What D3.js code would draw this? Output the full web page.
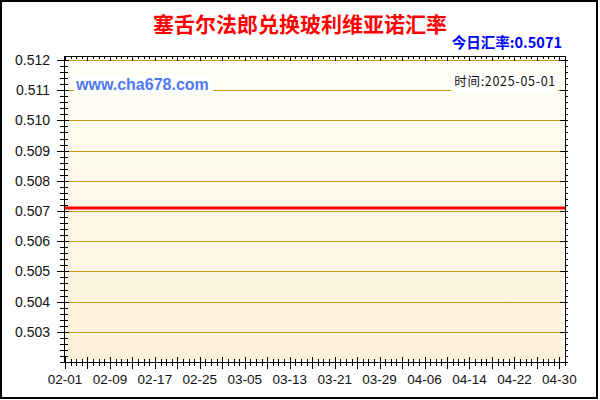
<!DOCTYPE html>
<html><head><meta charset="utf-8">
<script src="https://cdn.jsdelivr.net/npm/d3@7"></script>
<style>html,body{margin:0;padding:0;background:#fff;}svg{display:block;}</style>
</head><body>
<svg id="c" width="600" height="400"></svg>
<script>
const titleText = "塞舌尔法郎兑换玻利维亚诺汇率";
const todayText = "今日汇率:0.5071";
const siteText = "www.cha678.com";
const timeText = "时间:2025-05-01";
const dates = ["2025-02-01","2025-02-09","2025-02-17","2025-02-25","2025-03-05","2025-03-13","2025-03-21","2025-03-29","2025-04-06","2025-04-14","2025-04-22","2025-04-30","2025-05-01"];
const rates = [0.5071,0.5071,0.5071,0.5071,0.5071,0.5071,0.5071,0.5071,0.5071,0.5071,0.5071,0.5071,0.5071];
const xTickDates = ["2025-02-01","2025-02-09","2025-02-17","2025-02-25","2025-03-05","2025-03-13","2025-03-21","2025-03-29","2025-04-06","2025-04-14","2025-04-22","2025-04-30"];
const yTicks = [0.503,0.504,0.505,0.506,0.507,0.508,0.509,0.510,0.511,0.512];
const yDomain = [0.502, 0.512];
const xDomain = ["2025-02-01","2025-05-01"];

const parse = d3.utcParse("%Y-%m-%d");
const fmt = d3.utcFormat("%m-%d");
const svg = d3.select("#c");

const L = 64, R = 565, T = 56, B = 362;
const x = d3.scaleUtc().domain(xDomain.map(parse)).range([65, 565]);
const y = d3.scaleLinear().domain(yDomain).range([362, 60]);

// outer border
svg.append("rect").attr("x",1).attr("y",1).attr("width",596).attr("height",397)
  .attr("fill","#fff").attr("stroke","#000").attr("stroke-width",2);

// background gradient
const defs = svg.append("defs");
const g = defs.append("linearGradient").attr("id","bg").attr("x1",0).attr("y1",0).attr("x2",0).attr("y2",1);
g.append("stop").attr("offset","0%").attr("stop-color","#fffef6");
g.append("stop").attr("offset","100%").attr("stop-color","#fdf1d9");
svg.append("rect").attr("x",66).attr("y",58).attr("width",497).attr("height",302).attr("fill","url(#bg)");

// grid lines
svg.append("g").selectAll("line").data(yTicks).join("line")
  .attr("x1",66).attr("x2",563)
  .attr("y1",d=>Math.round(y(d))+0.5).attr("y2",d=>Math.round(y(d))+0.5)
  .attr("stroke","#c99a0e").attr("stroke-width",1);

// watermark labels with white backgrounds
svg.append("rect").attr("x",74).attr("y",76).attr("width",139).attr("height",18).attr("fill","#fff");
svg.append("text").attr("x",76).attr("y",90).text(siteText)
  .attr("font-family","Liberation Sans, Arial, sans-serif").attr("font-weight","bold")
  .attr("font-size",16).attr("fill","#5079f0");
svg.append("rect").attr("x",451).attr("y",74).attr("width",107).attr("height",17).attr("fill","#fff");
svg.append("text").attr("x",556).attr("y",86).attr("text-anchor","end").text(timeText)
  .attr("font-family","Noto Sans CJK SC, sans-serif").attr("font-size",12.5)
  .attr("letter-spacing",0.7).attr("fill","#111");

// data line
const line = d3.line().x(d=>x(parse(d.date))).y(d=>y(d.rate));
svg.append("path").datum(dates.map((d,i)=>({date:d, rate:rates[i]})))
  .attr("d", line).attr("fill","none").attr("stroke","#ff0000").attr("stroke-width",3);

// axes frame
const ax = svg.append("g").attr("stroke","#000").attr("stroke-width",1).attr("shape-rendering","crispEdges");
ax.append("line").attr("x1",L).attr("x2",L).attr("y1",T).attr("y2",B+1);
ax.append("line").attr("x1",R).attr("x2",R).attr("y1",T).attr("y2",B+1);
ax.append("line").attr("x1",L).attr("x2",R+1).attr("y1",B).attr("y2",B);
ax.append("line").attr("x1",L).attr("x2",R+1).attr("y1",T).attr("y2",T);

// x ticks
const start = parse(xDomain[0]), end = parse(xDomain[1]);
const minorX = d3.utcDay.range(start, d3.utcDay.offset(end,1));
const majorX = d3.utcDay.range(start, d3.utcDay.offset(end,1), 4);
ax.selectAll(".mxb").data(minorX).join("line")
  .attr("x1",d=>Math.round(x(d))).attr("x2",d=>Math.round(x(d))).attr("y1",B-3).attr("y2",B+4);
ax.selectAll(".Mxb").data(majorX).join("line")
  .attr("x1",d=>Math.round(x(d))).attr("x2",d=>Math.round(x(d))).attr("y1",B-5).attr("y2",B+7);
ax.selectAll(".mxt").data(minorX).join("line")
  .attr("x1",d=>Math.round(x(d))).attr("x2",d=>Math.round(x(d))).attr("y1",T).attr("y2",T+3);
ax.selectAll(".Mxt").data(majorX).join("line")
  .attr("x1",d=>Math.round(x(d))).attr("x2",d=>Math.round(x(d))).attr("y1",T).attr("y2",T+5);

// y ticks
const minorY = d3.range(0, 51).map(i => yDomain[0] + i*0.0002);
ax.selectAll(".myl").data(minorY).join("line")
  .attr("x1",L-4).attr("x2",L+4).attr("y1",d=>Math.round(y(d))).attr("y2",d=>Math.round(y(d)));
ax.selectAll(".Myl").data(yTicks).join("line")
  .attr("x1",L-7).attr("x2",L+5).attr("y1",d=>Math.round(y(d))).attr("y2",d=>Math.round(y(d)));
ax.selectAll(".myr").data(minorY).join("line")
  .attr("x1",R).attr("x2",R+3).attr("y1",d=>Math.round(y(d))).attr("y2",d=>Math.round(y(d)));
ax.selectAll(".Myr").data(yTicks).join("line")
  .attr("x1",R-5).attr("x2",R+3).attr("y1",d=>Math.round(y(d))).attr("y2",d=>Math.round(y(d)));

// tick labels
svg.append("g").selectAll("text").data(yTicks).join("text")
  .attr("x",50).attr("y",d=>y(d)).attr("dy","0.36em").attr("text-anchor","end")
  .attr("font-family","Liberation Sans, Arial, sans-serif").attr("font-size",14).attr("fill","#111")
  .text(d=>d3.format(".3f")(d));
svg.append("g").selectAll("text").data(xTickDates).join("text")
  .attr("x",d=>x(parse(d))).attr("y",384).attr("text-anchor","middle")
  .attr("font-family","Liberation Sans, Arial, sans-serif").attr("font-size",13.5).attr("fill","#111")
  .text(d=>fmt(parse(d)));

// title & today rate
svg.append("text").attr("x",300).attr("y",32).attr("text-anchor","middle").text(titleText)
  .attr("font-family","Noto Sans CJK SC, sans-serif").attr("font-weight","bold")
  .attr("font-size",21).attr("fill","#ff0000");
svg.append("text").attr("x",562).attr("y",48).attr("text-anchor","end").text(todayText)
  .attr("font-family","Noto Sans CJK SC, sans-serif").attr("font-weight","bold")
  .attr("font-size",14.5).attr("fill","#0000ff");
</script>
</body></html>
